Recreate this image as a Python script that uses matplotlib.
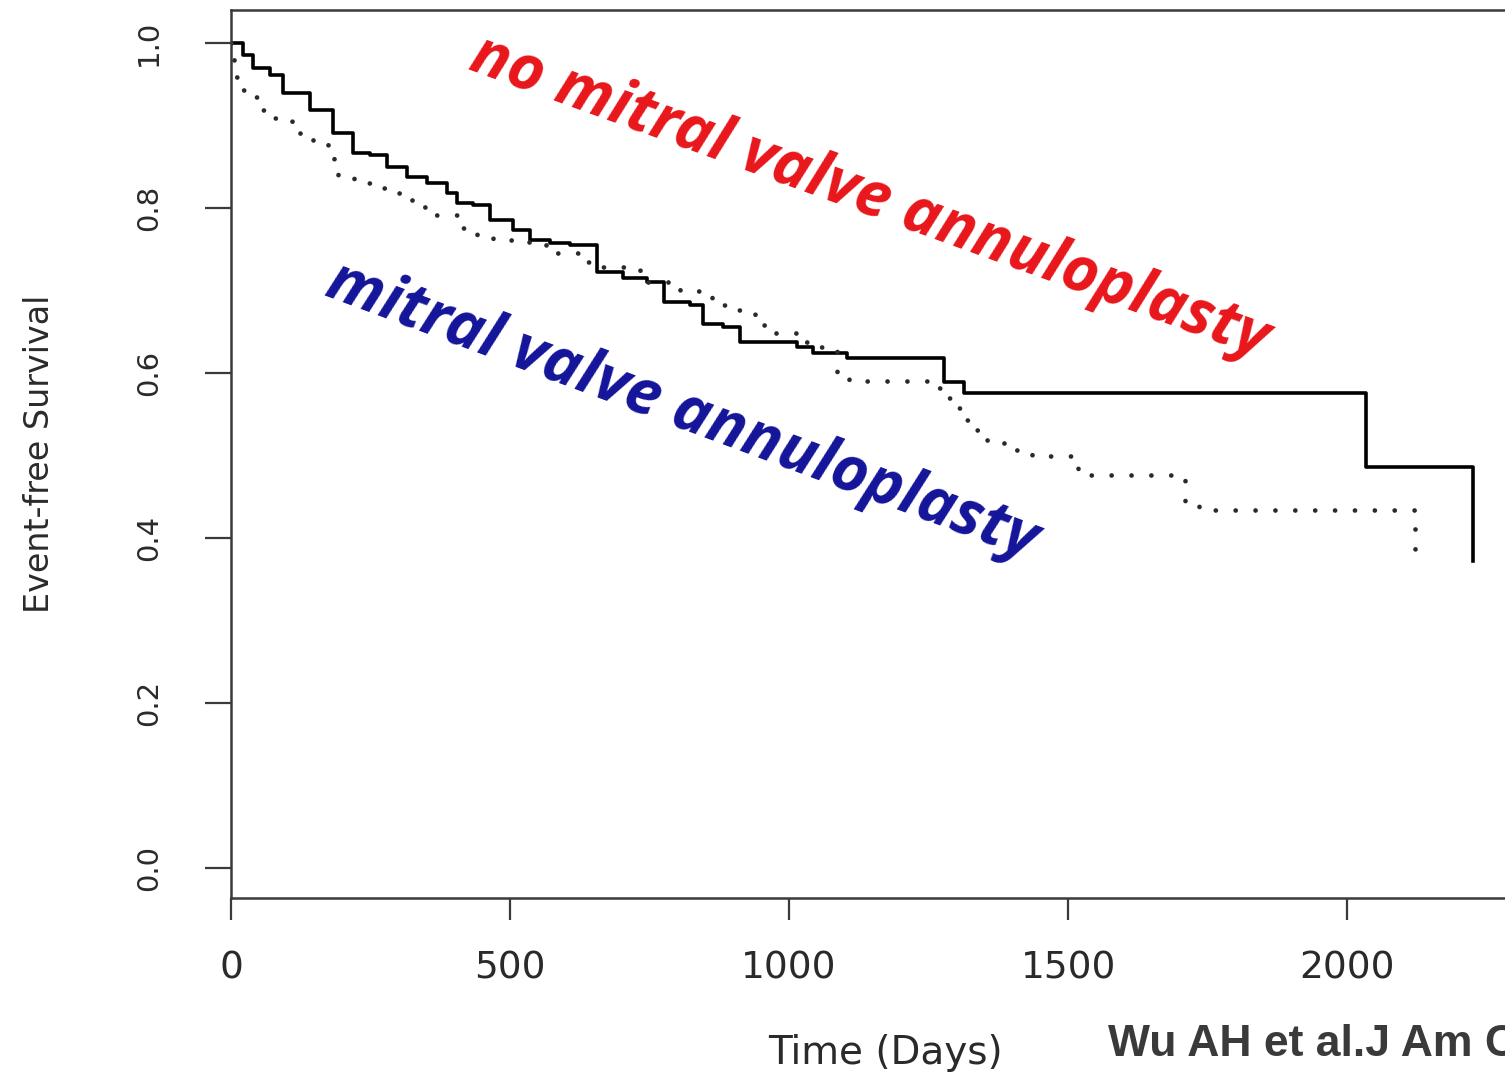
import matplotlib
matplotlib.use("Agg")
import matplotlib.pyplot as plt

# Kaplan-Meier style curves (day, survival after that day)
no_mva_days = [0, 22, 40, 70, 93, 141, 183, 219, 249, 280, 315, 351, 387, 405,
               434, 464, 505, 536, 572, 608, 656, 703, 746, 775, 823, 846, 882,
               912, 1014, 1043, 1104, 1278, 1313, 2033, 2226]
no_mva_surv = [1.0, 0.985, 0.97, 0.961, 0.939, 0.919, 0.891, 0.867, 0.864, 0.85,
               0.838, 0.83, 0.818, 0.806, 0.804, 0.785, 0.773, 0.761, 0.758, 0.755,
               0.722, 0.715, 0.71, 0.686, 0.682, 0.66, 0.656, 0.638, 0.632, 0.624,
               0.618, 0.589, 0.576, 0.486, 0.372]

mva_days = [0, 2, 5, 15, 45, 55, 78, 110, 123, 146, 173, 185, 191, 221, 252, 284,
            314, 338, 361, 413, 440, 469, 508, 565, 624, 660, 732, 804, 861, 890,
            938, 960, 1019, 1055, 1085, 1108, 1252, 1277, 1295, 1309, 1325, 1347,
            1381, 1406, 1436, 1510, 1517, 1710, 1734, 2122]
mva_surv = [1.0, 0.983, 0.959, 0.943, 0.935, 0.919, 0.909, 0.903, 0.888, 0.879,
            0.870, 0.855, 0.836, 0.830, 0.824, 0.818, 0.810, 0.801, 0.792, 0.776,
            0.765, 0.761, 0.759, 0.745, 0.735, 0.728, 0.710, 0.700, 0.682, 0.676,
            0.658, 0.648, 0.638, 0.632, 0.601, 0.591, 0.582, 0.570, 0.558, 0.543,
            0.531, 0.519, 0.515, 0.507, 0.499, 0.492, 0.476, 0.444, 0.434, 0.372]

x_ticks = [0, 500, 1000, 1500, 2000]
y_ticks = [0.0, 0.2, 0.4, 0.6, 0.8, 1.0]

fig = plt.figure(figsize=(15.05, 10.74), dpi=100)
# the right part of the frame runs off the picture, like in the source image
ax = fig.add_axes([0.1535, 0.1639, 0.89, 0.8268])
ax.set_xlim(0, 2400)
ax.set_ylim(-0.036, 1.04)

ax.step(no_mva_days, no_mva_surv, where="post", color="black", lw=2.6)
ax.step(mva_days, mva_surv, where="post", color="#2a2a2a", lw=3.4,
        linestyle=(0, (0.01, 4.2)), dash_capstyle="round")

for s in ax.spines.values():
    s.set_color("#3a3a3a")
    s.set_linewidth(1.8)

ax.set_xticks(x_ticks)
ax.set_xticklabels([str(t) for t in x_ticks])
ax.set_yticks(y_ticks)
ax.set_yticklabels([f"{t:.1f}" for t in y_ticks], rotation=90, va="center")
ax.tick_params(axis="x", direction="out", length=16, width=1.6,
               color="#3a3a3a", labelcolor="#2a2a2a", labelsize=27, pad=22)
ax.tick_params(axis="y", direction="out", length=19, width=1.6,
               color="#3a3a3a", labelcolor="#2a2a2a", labelsize=21, pad=30)

ax.set_xlabel("Time (Days)", fontsize=28, color="#2a2a2a", va="center")
ax.xaxis.set_label_coords((885 - 231) / (0.89 * 1505), -0.1745)
ax.set_ylabel("Event-free Survival", fontsize=24, color="#2a2a2a")
ax.yaxis.set_label_coords(-0.131, 0.5)

ax.text(1145, 0.812, "no mitral valve annuloplasty", color="#e8161b",
        fontsize=45, fontweight="bold", fontstyle="italic", family="Open Sans",
        rotation=-20, rotation_mode="anchor", ha="center", va="center")
ax.text(808, 0.553, "mitral valve annuloplasty", color="#14149a",
        fontsize=45, fontweight="bold", fontstyle="italic", family="Open Sans",
        rotation=-20.5, rotation_mode="anchor", ha="center", va="center")

fig.text(1108 / 1505, 1 - 1056 / 1074, "Wu AH et al.J Am Coll Cardiol",
         fontsize=32, fontweight="bold", color="#3a3a3a",
         family="Liberation Sans", ha="left", va="baseline")

fig.savefig("out.png", dpi=100)
